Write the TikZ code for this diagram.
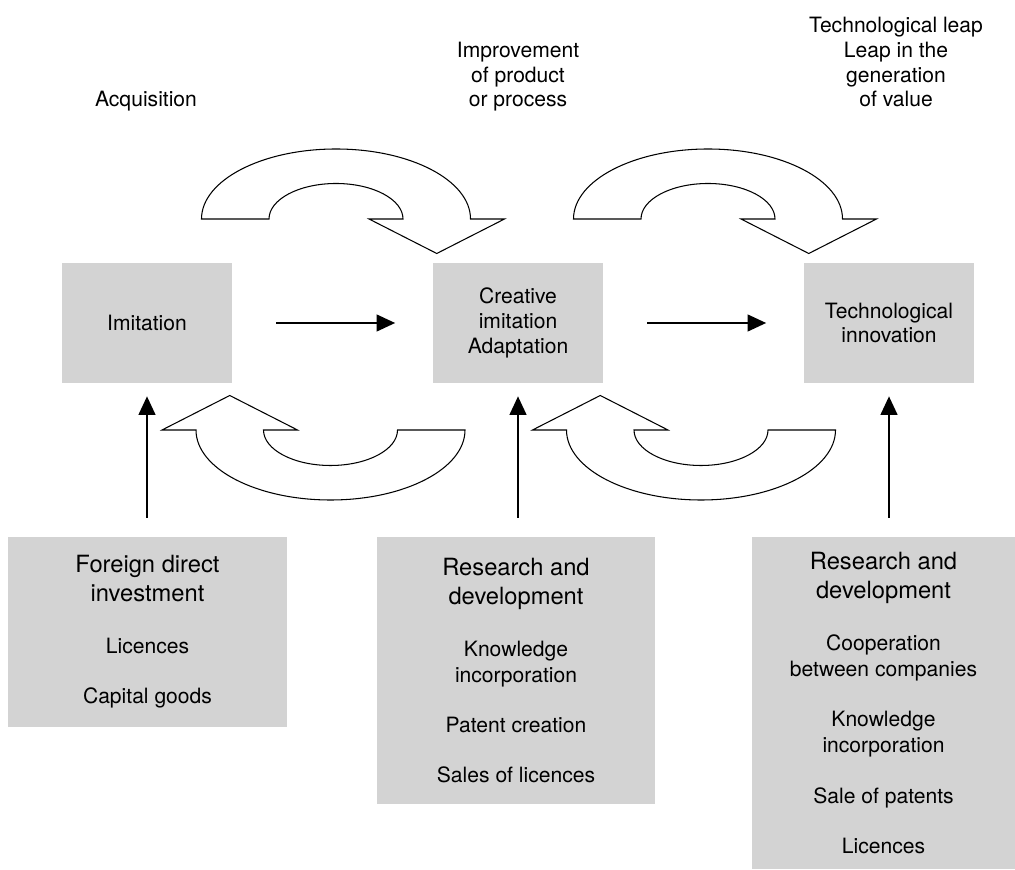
\documentclass[tikz,border=0pt]{standalone}
\usepackage{fontspec}
\setmainfont{TeX Gyre Heros}
\usetikzlibrary{arrows.meta,positioning}

\definecolor{boxgrey}{RGB}{211,211,211}
\newcommand{\hdfont}{\fontsize{13.5}{16.5}\selectfont}

\begin{document}
\begin{tikzpicture}[
  stage/.style={fill=boxgrey, minimum width=3.4cm, minimum height=2.4cm,
    align=center, inner sep=0pt, font=\fontsize{12}{14.2}\selectfont},
  source/.style={fill=boxgrey, align=center, inner sep=0pt,
    font=\fontsize{12}{14.8}\selectfont},
  phase/.style={align=center, anchor=base, inner sep=0pt,
    font=\fontsize{12}{14.2}\selectfont},
  flow/.style={line width=1.1pt, -{Triangle[length=10.5pt,width=9.5pt]}},
  turnarrow/.style={draw, fill=white, line width=0.6pt, line join=miter}
]
\useasboundingbox (0,0) rectangle (20.3,17.38);

% stages
\node[stage] (imit) at (2.94,10.92) {Imitation};
\node[stage] (creat) at (10.36,10.92) {Creative\\imitation\\Adaptation};
\node[stage] (innov) at (17.78,10.92) {Technological\\innovation};

% what each step brings
\node[phase] (acq) at (2.92,15.24) {Acquisition};
\node[phase] (impr) at (10.36,15.24) {Improvement\\of product\\or process};
\node[phase] (leap) at (17.92,15.24) {Technological leap\\Leap in the\\generation\\of value};

% sources feeding each stage
\node[source, minimum width=5.58cm, minimum height=3.8cm] (fdi) at (2.95,4.74)
  {{\hdfont Foreign direct}\\[1.7pt]{\hdfont investment}\\[14.8pt]Licences\\[13.7pt]Capital goods};
\node[source, minimum width=5.56cm, minimum height=5.34cm] (rd) at (10.32,3.97)
  {{\hdfont Research and}\\[1.7pt]{\hdfont development}\\[14.8pt]Knowledge\\incorporation\\[13.7pt]Patent creation\\[13.7pt]Sales of licences};
\node[source, minimum width=5.26cm, minimum height=6.64cm] (rdco) at (17.67,3.32)
  {{\hdfont Research and}\\[1.7pt]{\hdfont development}\\[14.8pt]Cooperation\\between companies\\[13.7pt]Knowledge\\incorporation\\[13.7pt]Sale of patents\\[13.7pt]Licences};

% straight arrows
\draw[flow, shorten <=0.88cm, shorten >=0.75cm] (imit) -- (creat);
\draw[flow, shorten <=0.88cm, shorten >=0.75cm] (creat) -- (innov);
\draw[flow, shorten <=0.38cm, shorten >=0.26cm] (imit.south |- fdi.north) -- (imit.south);
\draw[flow, shorten <=0.38cm, shorten >=0.26cm] (creat.south |- rd.north) -- (creat.south);
\draw[flow, shorten <=0.38cm, shorten >=0.26cm] (innov.south |- rdco.north) -- (innov.south);

% curved block arrows, top pair
\begin{scope}[shift={(6.72,13.00)}]
\draw[turnarrow] (-2.69,0) arc[start angle=180,end angle=0,x radius=2.69,y radius=1.40]
  -- (3.37,0) -- (2.015,-0.69) -- (0.66,0) -- (1.34,0)
  arc[start angle=0,end angle=180,x radius=1.34,y radius=0.71] -- cycle;
\end{scope}
\begin{scope}[shift={(14.16,13.00)}]
\draw[turnarrow] (-2.69,0) arc[start angle=180,end angle=0,x radius=2.69,y radius=1.40]
  -- (3.37,0) -- (2.015,-0.69) -- (0.66,0) -- (1.34,0)
  arc[start angle=0,end angle=180,x radius=1.34,y radius=0.71] -- cycle;
\end{scope}
% bottom pair, turned round
\begin{scope}[shift={(6.61,8.78)}, rotate=180]
\draw[turnarrow] (-2.69,0) arc[start angle=180,end angle=0,x radius=2.69,y radius=1.40]
  -- (3.37,0) -- (2.015,-0.69) -- (0.66,0) -- (1.34,0)
  arc[start angle=0,end angle=180,x radius=1.34,y radius=0.71] -- cycle;
\end{scope}
\begin{scope}[shift={(14.02,8.78)}, rotate=180]
\draw[turnarrow] (-2.69,0) arc[start angle=180,end angle=0,x radius=2.69,y radius=1.40]
  -- (3.37,0) -- (2.015,-0.69) -- (0.66,0) -- (1.34,0)
  arc[start angle=0,end angle=180,x radius=1.34,y radius=0.71] -- cycle;
\end{scope}
\end{tikzpicture}
\end{document}
